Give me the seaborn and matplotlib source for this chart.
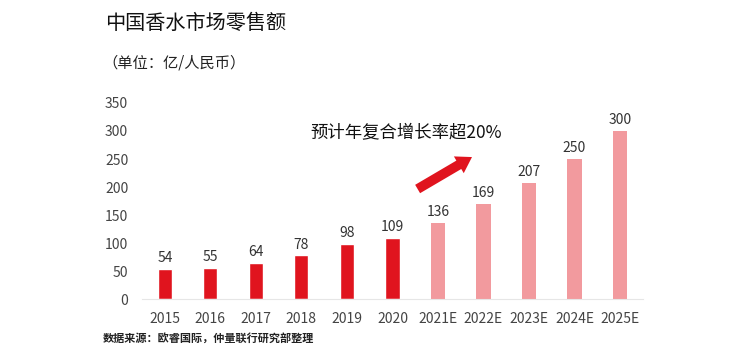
import pandas as pd
import numpy as np
import matplotlib.pyplot as plt
import seaborn as sns

# 数据
years = ['2015', '2016', '2017', '2018', '2019', '2020',
         '2021E', '2022E', '2023E', '2024E', '2025E']
sales = [54, 55, 64, 78, 98, 109, 136, 169, 207, 250, 300]
kind = ['实际'] * 6 + ['预测'] * 5

df = pd.DataFrame({'年份': years, '零售额': sales, '类型': kind})

sns.set_style('white')
plt.rcParams['font.family'] = ['Noto Sans CJK SC', 'DejaVu Sans']
plt.rcParams['hatch.color'] = '#f7c4c6'
plt.rcParams['hatch.linewidth'] = 0.6

fig = plt.figure(figsize=(7.44, 3.6), dpi=100)
ax = fig.add_axes([0.191, 0.169, 0.673, 0.545])

sns.barplot(data=df, x='年份', y='零售额', hue='类型',
            palette={'实际': '#e0141e', '预测': '#f29a9e'}, saturation=1,
            dodge=False, width=0.31, legend=False, ax=ax)

for patch, k in zip(ax.patches, kind):
    if k == '预测':
        patch.set_hatch('......')
        patch.set_edgecolor('#f29a9e')
        patch.set_linewidth(0)

# 数值标签
for i, v in enumerate(sales):
    ax.text(i, v + 7, str(v), ha='center', va='bottom', fontsize=10, color='#333333')

ax.set_ylim(0, 350)
ax.set_xlim(-0.5, len(years) - 0.5)
ax.set_yticks(range(0, 351, 50))
ax.set_xlabel('')
ax.set_ylabel('')
ax.tick_params(axis='both', length=0, labelsize=10, labelcolor='#444444')
ax.tick_params(axis='y', pad=10)
ax.tick_params(axis='x', pad=9)
sns.despine(ax=ax, left=True)
ax.spines['bottom'].set_color('#e6e6e6')
ax.spines['bottom'].set_linewidth(0.8)

# 增长率标注
ax.text(5.3, 296, '预计年复合增长率超20%', ha='center', va='center', fontsize=12.5, color='#111111')
ax.annotate('', xy=(6.8, 256), xytext=(5.5, 194),
            arrowprops=dict(arrowstyle='simple,head_length=1.1,head_width=1.4,tail_width=0.7',
                            color='#e0141e', lw=0))

fig.text(0.141, 0.935, '中国香水市场零售额', fontsize=14.5, color='#111111', va='center')
fig.text(0.138, 0.825, '（单位：亿/人民币）', fontsize=11, color='#222222', va='center')
fig.text(0.138, 0.06, '数据来源：欧睿国际，仲量联行研究部整理', fontsize=8,
         fontweight='bold', color='#222222', va='center')

fig.savefig('out.png', dpi=100)
